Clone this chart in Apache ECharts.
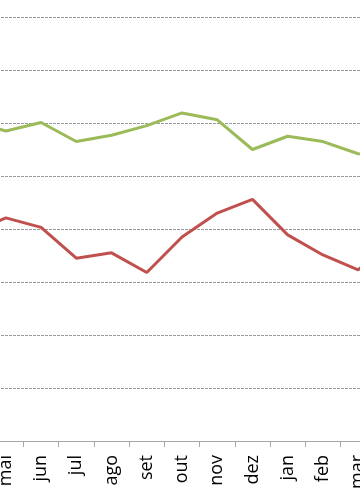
<!DOCTYPE html>
<html>
<head>
<meta charset="utf-8">
<script src="https://cdn.jsdelivr.net/npm/echarts@6/dist/echarts.min.js"></script>
<style>
html,body{margin:0;padding:0;background:#fff;overflow:hidden;width:360px;height:504px;}
#c{position:absolute;left:-47px;top:0;width:458px;height:504px;}
</style>
</head>
<body>
<div id="c"></div>
<script>
// Categories (first and last lie just outside the visible crop)
var months = ['abr', 'mai', 'jun', 'jul', 'ago', 'set', 'out', 'nov', 'dez', 'jan', 'feb', 'mar', 'abr'];
var greenValues = [60.4, 58.5, 60.1, 56.5, 57.7, 59.5, 61.9, 60.6, 55.0, 57.5, 56.5, 54.2, 54.0];
var redValues   = [39.2, 42.1, 40.3, 34.5, 35.5, 31.8, 38.5, 43.0, 45.6, 38.9, 35.1, 32.3, 38.0];
var yMin = 0, yMax = 80, yStep = 10;

var chart = echarts.init(document.getElementById('c'), null, {renderer: 'canvas'});
chart.setOption({
  animation: false,
  backgroundColor: '#ffffff',
  grid: {left: 0, right: 0, top: 17, bottom: 63, containLabel: false},
  xAxis: {
    type: 'category',
    data: months,
    boundaryGap: true,
    axisLine: {show: true, lineStyle: {color: '#a6a6a6', width: 1}},
    axisTick: {show: true, length: 6, lineStyle: {color: '#a6a6a6'}},
    axisLabel: {rotate: 90, margin: 14, fontFamily: 'Open Sans', fontSize: 18, color: '#000', interval: 0},
    splitLine: {show: false}
  },
  yAxis: {
    type: 'value',
    min: yMin, max: yMax, interval: yStep,
    axisLine: {show: false},
    axisTick: {show: false},
    axisLabel: {show: false},
    splitLine: {show: true, lineStyle: {color: '#9a9a9a', width: 1, type: [3, 1]}}
  },
  series: [
    {type: 'line', data: greenValues, symbol: 'none', lineStyle: {color: '#9bbb59', width: 3}, itemStyle: {color: '#9bbb59'}},
    {type: 'line', data: redValues, symbol: 'none', lineStyle: {color: '#c0504d', width: 3}, itemStyle: {color: '#c0504d'}}
  ]
});
</script>
</body>
</html>
